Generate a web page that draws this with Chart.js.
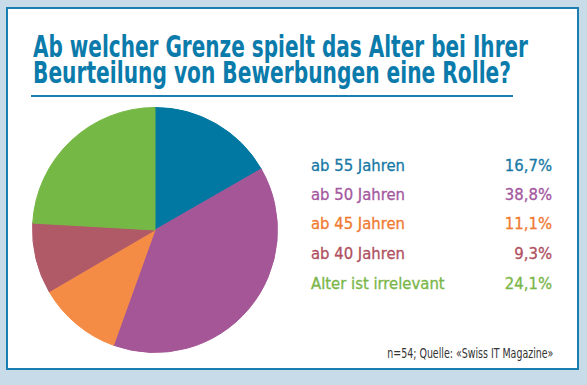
<!DOCTYPE html>
<html>
<head>
<meta charset="utf-8">
<script src="https://cdn.jsdelivr.net/npm/chart.js@4/dist/chart.umd.min.js"></script>
<style>
  html, body { margin: 0; padding: 0; }
  body {
    width: 587px; height: 385px; background: #c7dbe9;
    position: relative; overflow: hidden;
    font-family: "Liberation Sans Narrow", "DejaVu Sans Condensed", sans-serif;
  }
  #panel {
    position: absolute; left: 6px; top: 7px; width: 569px; height: 359px;
    background: #fff; border: 2px solid #1a7fb0;
  }
  .title-line {
    position: absolute; left: 33px; display: inline-block;
    font-size: 30px; line-height: 26px; font-weight: bold; color: #0b7bab;
    white-space: nowrap; transform-origin: left center;
  }
  #rule {
    position: absolute; left: 31px; top: 95px; width: 482px; height: 0;
    border-top: 2px solid #1a7fb0;
  }
  #chart-box { position: absolute; left: 32px; top: 107px; width: 246px; height: 246px; }
  .row {
    position: absolute; left: 311px; width: 241px; font-size: 16.5px; line-height: 20px;
    -webkit-text-stroke: 0.3px currentColor;
  }
  .row .val { position: absolute; right: 0; top: 0; }
  #source {
    position: absolute; right: 34px; top: 345px; font-size: 14px; line-height: 16px; color: #333;
    white-space: nowrap; display: inline-block; transform-origin: right center;
  }
</style>
</head>
<body>
<div id="panel"></div>
<div class="title-line" style="top:34px" data-w="495">Ab welcher Grenze spielt das Alter bei Ihrer</div>
<div class="title-line" style="top:60px" data-w="478">Beurteilung von Bewerbungen eine Rolle?</div>
<div id="rule"></div>
<div id="chart-box"><canvas id="pie" width="246" height="246"></canvas></div>
<div id="legend"></div>
<div id="source" data-w="166">n=54; Quelle: «Swiss IT Magazine»</div>
<script>
const categories = ["ab 55 Jahren", "ab 50 Jahren", "ab 45 Jahren", "ab 40 Jahren", "Alter ist irrelevant"];
const shares = [16.7, 38.8, 11.1, 9.3, 24.1];

const sliceColors = ["#0078a1", "#a45696", "#f58c46", "#b05a68", "#76b845"];
const textColors = ["#1779a6", "#a458a0", "#f07a32", "#b0505f", "#79b648"];
const rowTops = [156, 185, 214, 244, 274];

function formatShare(v) {
    return v.toFixed(1).replace(".", ",") + "%";
}

// squeeze text to the width it has in the original (condensed face there)
document.querySelectorAll("[data-w]").forEach(function (el) {
    const w = el.getBoundingClientRect().width;
    el.style.transform = "scaleX(" + (parseFloat(el.dataset.w) / w) + ")";
});

const legend = document.getElementById("legend");
categories.forEach(function (name, i) {
    const row = document.createElement("div");
    row.className = "row";
    row.style.top = rowTops[i] + "px";
    row.style.color = textColors[i];
    row.textContent = name;
    const val = document.createElement("span");
    val.className = "val";
    val.textContent = formatShare(shares[i]);
    row.appendChild(val);
    legend.appendChild(row);
});

new Chart(document.getElementById("pie"), {
    type: "pie",
    data: {
        labels: categories,
        datasets: [{
            data: shares,
            backgroundColor: sliceColors,
            borderColor: sliceColors,
            borderWidth: 1
        }]
    },
    options: {
        responsive: false,
        animation: false,
        layout: { padding: 0 },
        plugins: {
            legend: { display: false },
            tooltip: { enabled: false }
        }
    }
});
</script>
</body>
</html>
